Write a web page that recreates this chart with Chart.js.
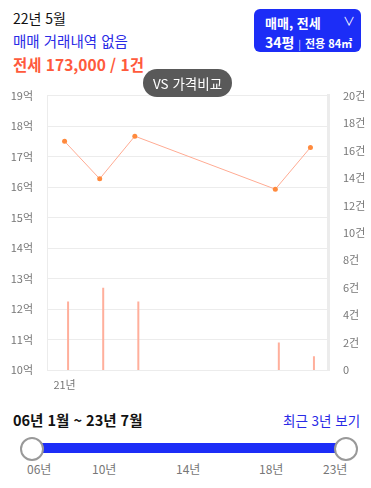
<!DOCTYPE html>
<html lang="ko">
<head>
<meta charset="utf-8">
<script src="https://cdn.jsdelivr.net/npm/chart.js@4.4.0/dist/chart.umd.min.js"></script>
<style>
  body { margin: 0; width: 371px; height: 488px; background: #fff; font-family: "Noto Sans CJK KR", sans-serif; position: relative; overflow: hidden; }
  .abs { position: absolute; white-space: nowrap; }
  #chartBox { position: absolute; left: 0; top: 74px; width: 371px; height: 326px; }
  .btn { left: 254px; top: 9px; width: 107px; height: 43px; background: #1c2df7; border-radius: 6px; color: #fff; }
  .pill { left: 143px; top: 69px; width: 89px; height: 28px; background: #595959; border-radius: 14px; color: #fff; font-size: 13.5px; line-height: 28px; text-align: center; z-index: 5; }
  .yr { top: 460px; font-size: 12px; color: #777; }
</style>
</head>
<body>
<div class="abs" style="left:13px;top:8px;font-size:14px;color:#111;">22년 5월</div>
<div class="abs" style="left:13px;top:30px;font-size:14.5px;color:#2a2ae6;">매매 거래내역 없음</div>
<div class="abs" style="left:13px;top:53px;font-size:15.5px;color:#ff5a3c;font-weight:bold;">전세 173,000 / 1건</div>

<div class="abs btn">
  <div class="abs" style="left:11px;top:4px;font-size:13px;font-weight:bold;">매매, 전세</div>
  <div class="abs" style="left:89px;top:3px;font-size:12px;">&#8744;</div>
  <div class="abs" style="left:11px;top:23px;font-size:14px;font-weight:bold;">34평 <span style="font-weight:normal;font-size:10px;opacity:.8;">|</span> <span style="font-size:11px;">전용 84㎡</span></div>
</div>

<div class="abs pill">VS 가격비교</div>

<div id="chartBox"><canvas id="grafico" width="371" height="326"></canvas></div>

<div class="abs" style="left:13px;top:409px;font-size:14.5px;font-weight:bold;color:#111;">06년 1월 ~ 23년 7월</div>
<div class="abs" style="left:283px;top:410px;font-size:13.5px;color:#2a2ae6;">최근 3년 보기</div>

<div class="abs" style="left:31px;top:443px;width:315px;height:10px;background:#1c2df7;"></div>
<div class="abs" style="left:20px;top:437px;width:20px;height:20px;border-radius:50%;background:#fff;border:2px solid #999;"></div>
<div class="abs" style="left:334px;top:437px;width:20px;height:20px;border-radius:50%;background:#fff;border:2px solid #999;"></div>
<div class="abs yr" style="left:27px;">06년</div>
<div class="abs yr" style="left:92px;">10년</div>
<div class="abs yr" style="left:176px;">14년</div>
<div class="abs yr" style="left:259px;">18년</div>
<div class="abs yr" style="left:323px;">23년</div>

<script>
// 기간 (카테고리)
const periods = ['21.1', '21.2', '21.3', '21.4', '22.1', '22.2', '22.3', '22.4'];
const xTickLabels = ['21년', '', '', '', '', '', '', ''];
// 전세 평균가 (억)
const jeonsePrice = [17.5, 16.27, 17.67, null, null, null, 15.93, 17.3];
// 거래 건수
const saleCount = [null, null, null, null, null, null, null, null];
const jeonseCount = [5, 6, 5, null, null, null, 2, 1];
// 축 눈금
const priceTicks = [10, 19];
const countTicks = [0, 20];

const gridColor = '#ececec';
const tickFont = { family: 'Noto Sans CJK KR', size: 11 };

const ctx = document.getElementById('grafico').getContext('2d');
const grafico = new Chart(ctx, {
  type: 'bar',
  data: {
    labels: periods,
    datasets: [{
      type: 'line',
      label: '전세가',
      data: jeonsePrice,
      yAxisID: 'y',
      spanGaps: true,
      borderColor: '#ffab93',
      borderWidth: 1,
      pointRadius: 2.5,
      pointBackgroundColor: '#ff8a3d',
      pointBorderWidth: 0,
      order: 0
    },
    {
      label: '매매 건수',
      data: saleCount,
      yAxisID: 'y1',
      backgroundColor: '#8fa0ff',
      categoryPercentage: 0.4,
      barPercentage: 1,
      maxBarThickness: 2,
      order: 1
    },
    {
      label: '전세 건수',
      data: jeonseCount,
      yAxisID: 'y1',
      backgroundColor: '#ffaf9c',
      categoryPercentage: 0.4,
      barPercentage: 1,
      maxBarThickness: 2,
      order: 1
    }]
  },
  options: {
    responsive: false,
    animation: false,
    layout: { padding: { top: 0 } },
    plugins: { legend: { display: false }, tooltip: { enabled: false } },
    scales: {
      x: {
        grid: { display: false, drawTicks: false },
        border: { display: false },
        ticks: {
          autoSkip: false, maxRotation: 0, padding: 8,
          color: '#777', font: tickFont,
          callback: (v, i) => xTickLabels[i]
        },
        afterFit: s => { s.height = 30; }
      },
      y: {
        position: 'left',
        min: priceTicks[0], max: priceTicks[1],
        grid: { color: gridColor, drawTicks: false },
        border: { color: gridColor, width: 1 },
        ticks: { stepSize: 1, padding: 14, color: '#777', font: tickFont, callback: v => v + '억' },
        afterFit: s => { s.width = 47; }
      },
      y1: {
        position: 'right',
        min: countTicks[0], max: countTicks[1],
        grid: { display: false, drawTicks: false },
        border: { color: gridColor, width: 3 },
        ticks: { stepSize: 2, padding: 15, color: '#777', font: tickFont, callback: v => v === 0 ? '0' : v + '건' },
        afterFit: s => { s.width = 43; }
      }
    }
  }
});
</script>
</body>
</html>
